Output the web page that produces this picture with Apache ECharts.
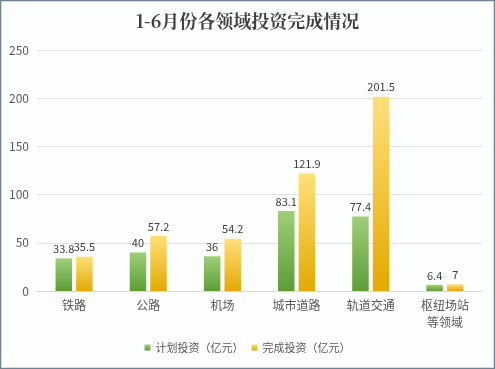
<!DOCTYPE html>
<html><head><meta charset="utf-8">
<script src="https://cdn.jsdelivr.net/npm/echarts@6/dist/echarts.min.js"></script>
<style>html,body{margin:0;padding:0;background:#fff}#c{width:495px;height:369px}</style>
</head><body><div id="c"></div>
<script>
var categories = ['铁路', '公路', '机场', '城市道路', '轨道交通', '枢纽场站\n等领域'];
var planned = [33.8, 40, 36, 83.1, 77.4, 6.4];
var completed = [35.5, 57.2, 54.2, 121.9, 201.5, 7];
var seriesNames = ['计划投资（亿元）', '完成投资（亿元）'];
var titleText = '1-6月份各领域投资完成情况';

var chart = echarts.init(document.getElementById('c'), null, {renderer: 'canvas'});
var font = '"Noto Sans CJK SC", "Noto Sans", sans-serif';
function grad(top, bottom) {
  return new echarts.graphic.LinearGradient(0, 0, 0, 1, [{offset: 0, color: top}, {offset: 1, color: bottom}]);
}
chart.setOption({
  backgroundColor: '#fdfefe',
  textStyle: {fontFamily: font},
  title: {text: titleText, left: 'center', top: 7,
    textStyle: {fontSize: 18, fontWeight: 'bold', color: '#3f3f3f', fontFamily: '"Noto Serif CJK SC", "Noto Sans CJK SC", serif'}},
  graphic: [{type: 'rect', shape: {x: 0.5, y: 0.5, width: 494, height: 368}, style: {fill: 'none', stroke: '#6f8294', lineWidth: 1.5}, silent: true}],
  legend: {bottom: 11, left: 'center', itemWidth: 6, itemHeight: 6, itemGap: 8, icon: 'rect',
    textStyle: {fontSize: 11, color: '#595959'}, data: seriesNames},
  grid: {left: 37, right: 13, top: 50, bottom: 78},
  xAxis: {type: 'category', data: categories,
    axisLine: {lineStyle: {color: '#d9d9d9'}}, axisTick: {show: false},
    axisLabel: {fontSize: 12, color: '#595959', interval: 0, lineHeight: 17, margin: 6}},
  yAxis: {type: 'value', min: 0, max: 250, interval: 50,
    axisLine: {show: false}, axisTick: {show: false},
    axisLabel: {fontSize: 12, color: '#595959', margin: 8},
    splitLine: {lineStyle: {color: '#e3e3e3'}}},
  series: [
    {name: seriesNames[0], type: 'bar', data: planned, barGap: '25%', barCategoryGap: '50%',
     itemStyle: {color: grad('#9fcf78', '#5c9e36')},
     label: {show: true, position: 'top', fontSize: 11, color: '#404040', distance: 4}},
    {name: seriesNames[1], type: 'bar', data: completed,
     itemStyle: {color: grad('#ffe07a', '#e3a900')},
     label: {show: true, position: 'top', fontSize: 11, color: '#404040', distance: 4}}
  ],
  color: ['#6aa84f', '#e8b90a']
});
</script></body></html>
